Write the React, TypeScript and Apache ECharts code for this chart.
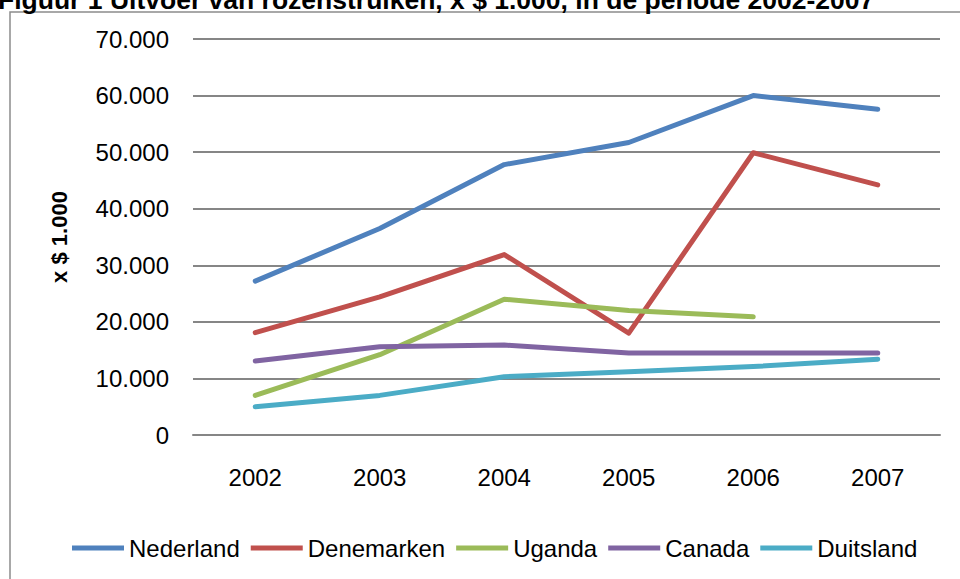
import React, { useEffect, useRef } from "react";
import * as echarts from "echarts";

const years = ["2002", "2003", "2004", "2005", "2006", "2007"];
const nederland = [27200, 36500, 47800, 51700, 60000, 57600];
const denemarken = [18100, 24400, 31900, 18000, 49900, 44200];
const uganda: (number | null)[] = [7000, 14200, 24000, 22000, 20900, null];
const canada = [13100, 15600, 15900, 14500, 14500, 14500];
const duitsland = [5000, 7000, 10300, 11200, 12100, 13400];
const yTicks = { min: 0, max: 70000, interval: 10000 };

const seriesNames = ["Nederland", "Denemarken", "Uganda", "Canada", "Duitsland"];
const seriesData = [nederland, denemarken, uganda, canada, duitsland];
const colors = ["#4F81BD", "#C0504D", "#9BBB59", "#8064A2", "#4BACC6"];

const FONT = "'Liberation Sans', Arial, sans-serif";

export default function App() {
  const ref = useRef<HTMLDivElement>(null);
  useEffect(() => {
    if (!ref.current) return;
    const chart = echarts.init(ref.current, undefined, { renderer: "svg" });
    chart.setOption({
      animation: false,
      backgroundColor: "#ffffff",
      color: colors,
      textStyle: { fontFamily: FONT, color: "#000" },
      graphic: [
        {
          type: "rect",
          shape: { x: 10, y: 12, width: 1200, height: 1200 },
          style: { fill: "none", stroke: "#8c8c8c", lineWidth: 1.5 },
          silent: true,
          z: -1,
        },
        {
          type: "text",
          x: -2,
          y: 13,
          style: {
            text: "Figuur 1 Uitvoer van rozenstruiken, x $ 1.000, in de periode 2002-2007",
            font: `bold 26.5px ${FONT}`,
            fill: "#000",
            textAlign: "left",
            textVerticalAlign: "bottom",
          },
        },
      ],
      grid: { left: 193, right: 20, top: 39, bottom: 144, containLabel: false },
      legend: {
        data: seriesNames,
        left: 67,
        top: 531,
        icon: "rect",
        itemWidth: 52,
        itemHeight: 5,
        itemGap: 11,
        textStyle: { fontFamily: FONT, fontSize: 24, color: "#000" },
      },
      xAxis: {
        type: "category",
        data: years,
        boundaryGap: true,
        axisLine: { lineStyle: { color: "#868686", width: 2 } },
        axisTick: { show: false },
        axisLabel: { fontFamily: FONT, fontSize: 24, color: "#000", margin: 30 },
        splitLine: { show: false },
      },
      yAxis: {
        type: "value",
        min: yTicks.min,
        max: yTicks.max,
        interval: yTicks.interval,
        name: "x $ 1.000",
        nameLocation: "middle",
        nameRotate: 90,
        nameGap: 123,
        nameTextStyle: { fontFamily: FONT, fontSize: 22, fontWeight: "bold", color: "#000" },
        axisLine: { show: false },
        axisTick: { show: false },
        axisLabel: {
          fontFamily: FONT,
          fontSize: 24,
          color: "#000",
          margin: 24,
          formatter: (v: number) => (v === 0 ? "0" : (v / 1000).toFixed(0) + ".000"),
        },
        splitLine: { lineStyle: { color: "#868686", width: 2 } },
      },
      series: seriesNames.map((name, i) => ({
        name,
        type: "line",
        data: seriesData[i],
        symbol: "none",
        showSymbol: false,
        connectNulls: false,
        lineStyle: { width: 5, color: colors[i], cap: "round", join: "round" },
        itemStyle: { color: colors[i] },
      })),
    });
    return () => chart.dispose();
  }, []);
  return (
    <div
      ref={ref}
      style={{ position: "fixed", left: 0, top: 0, width: 960, height: 579 }}
    />
  );
}
